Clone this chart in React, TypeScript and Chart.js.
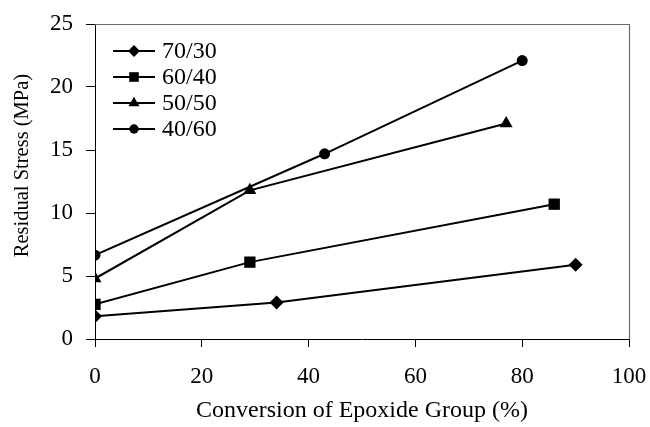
import React, { useEffect, useRef } from 'react';
import { Chart, registerables } from 'chart.js';
import { drawPoint } from 'chart.js/helpers';

Chart.register(...registerables);

// Data
const seriesLabels = ['70/30', '60/40', '50/50', '40/60'];
const conversion7030 = [0, 34, 90];
const stress7030 = [1.8, 2.9, 5.9];
const conversion6040 = [0, 29, 86];
const stress6040 = [2.75, 6.1, 10.7];
const conversion5050 = [0, 29, 77];
const stress5050 = [4.8, 11.8, 17.1];
const conversion4060 = [0, 43, 80];
const stress4060 = [6.65, 14.7, 22.1];
const xTicks = [0, 20, 40, 60, 80, 100];
const yTicks = [0, 5, 10, 15, 20, 25];
const xTitle = 'Conversion of Epoxide Group (%)';
const yTitle = 'Residual Stress (MPa)';

const FONT = "'Liberation Serif', 'Times New Roman', serif";
const pointStyles = ['rectRot', 'rect', 'triangle', 'circle'];
const pointRadii = [7, 8, 7.5, 5.5];

const toXY = (xs: number[], ys: number[]) => xs.map((x, i) => ({ x, y: ys[i] }));

const framePlugin = {
  id: 'frame',
  afterDraw(chart: any) {
    const { ctx, chartArea } = chart;
    ctx.save();
    ctx.strokeStyle = '#6a6a6a';
    ctx.lineWidth = 1.2;
    ctx.beginPath();
    ctx.moveTo(chartArea.left, chartArea.top + 0.5);
    ctx.lineTo(chartArea.right + 0.5, chartArea.top + 0.5);
    ctx.lineTo(chartArea.right + 0.5, chartArea.bottom);
    ctx.stroke();
    ctx.restore();
  },
};

const yTitlePlugin = {
  id: 'yTitle',
  afterDraw(chart: any) {
    const { ctx, chartArea } = chart;
    ctx.save();
    ctx.translate(23, (chartArea.top + chartArea.bottom) / 2 - 16);
    ctx.rotate(-Math.PI / 2);
    ctx.fillStyle = '#000';
    ctx.font = `20.5px ${FONT}`;
    ctx.textAlign = 'center';
    ctx.textBaseline = 'middle';
    ctx.fillText(yTitle, 0, 0);
    ctx.restore();
  },
};

const legendPlugin = {
  id: 'lineLegend',
  afterDraw(chart: any) {
    const { ctx, chartArea } = chart;
    const x0 = chartArea.left + 18;
    const x1 = chartArea.left + 60;
    const xm = (x0 + x1) / 2;
    chart.data.datasets.forEach((ds: any, i: number) => {
      const y = chartArea.top + 27 + i * 26;
      ctx.save();
      ctx.strokeStyle = '#000';
      ctx.lineWidth = 2;
      ctx.beginPath();
      ctx.moveTo(x0, y);
      ctx.lineTo(x1, y);
      ctx.stroke();
      ctx.fillStyle = '#000';
      drawPoint(ctx, { pointStyle: ds.pointStyle, radius: ds.pointRadius * 0.85, rotation: 0, borderWidth: 0 } as any, xm, y);
      ctx.fillStyle = '#000';
      ctx.font = `24px ${FONT}`;
      ctx.textAlign = 'left';
      ctx.textBaseline = 'middle';
      ctx.fillText(ds.label, x1 + 7, y + 1);
      ctx.restore();
    });
  },
};

export default function App() {
  const ref = useRef<HTMLCanvasElement>(null);
  useEffect(() => {
    if (!ref.current) return;
    const seriesX = [conversion7030, conversion6040, conversion5050, conversion4060];
    const seriesY = [stress7030, stress6040, stress5050, stress4060];
    const chart = new Chart(ref.current, {
      type: 'scatter',
      data: {
        datasets: seriesLabels.map((label, i) => ({
          label,
          data: toXY(seriesX[i], seriesY[i]),
          showLine: true,
          borderColor: '#000',
          backgroundColor: '#000',
          borderWidth: 2,
          pointStyle: pointStyles[i] as any,
          pointRadius: pointRadii[i],
          pointBorderWidth: 0,
          pointBackgroundColor: '#000',
        })),
      },
      options: {
        animation: false,
        responsive: false,
        layout: { padding: { left: 0, right: 21, top: 24, bottom: 0 } },
        plugins: { legend: { display: false }, tooltip: { enabled: false } },
        scales: {
          x: {
            type: 'linear',
            min: 0,
            max: 100,
            afterBuildTicks: (s: any) => { s.ticks = xTicks.map((v) => ({ value: v })); },
            afterFit: (s: any) => { s.height = 88; s.paddingLeft = 0; s.paddingRight = 0; },
            grid: { drawOnChartArea: false, drawTicks: true, tickLength: 8, color: '#000', lineWidth: 1 },
            border: { display: true, color: '#000', width: 1 },
            ticks: { color: '#000', font: { family: FONT, size: 23 }, padding: 16, maxRotation: 0 },
            title: { display: true, text: xTitle, color: '#000', font: { family: FONT, size: 24 }, padding: { top: 0, bottom: 2 } },
          },
          y: {
            type: 'linear',
            min: 0,
            max: 25,
            afterBuildTicks: (s: any) => { s.ticks = yTicks.map((v) => ({ value: v })); },
            afterFit: (s: any) => { s.width = 95; s.paddingTop = 0; s.paddingBottom = 0; },
            grid: { drawOnChartArea: false, drawTicks: true, tickLength: 9, color: '#000', lineWidth: 1 },
            border: { display: true, color: '#000', width: 1 },
            ticks: { color: '#000', font: { family: FONT, size: 23 }, padding: 13 },
            title: { display: false, text: yTitle },
          },
        },
      },
      plugins: [framePlugin, legendPlugin, yTitlePlugin],
    });
    return () => chart.destroy();
  }, []);
  return (
    <div style={{ position: 'absolute', left: 0, top: 0, width: 650, height: 427, background: '#fff' }}>
      <canvas ref={ref} width={650} height={427} />
    </div>
  );
}
